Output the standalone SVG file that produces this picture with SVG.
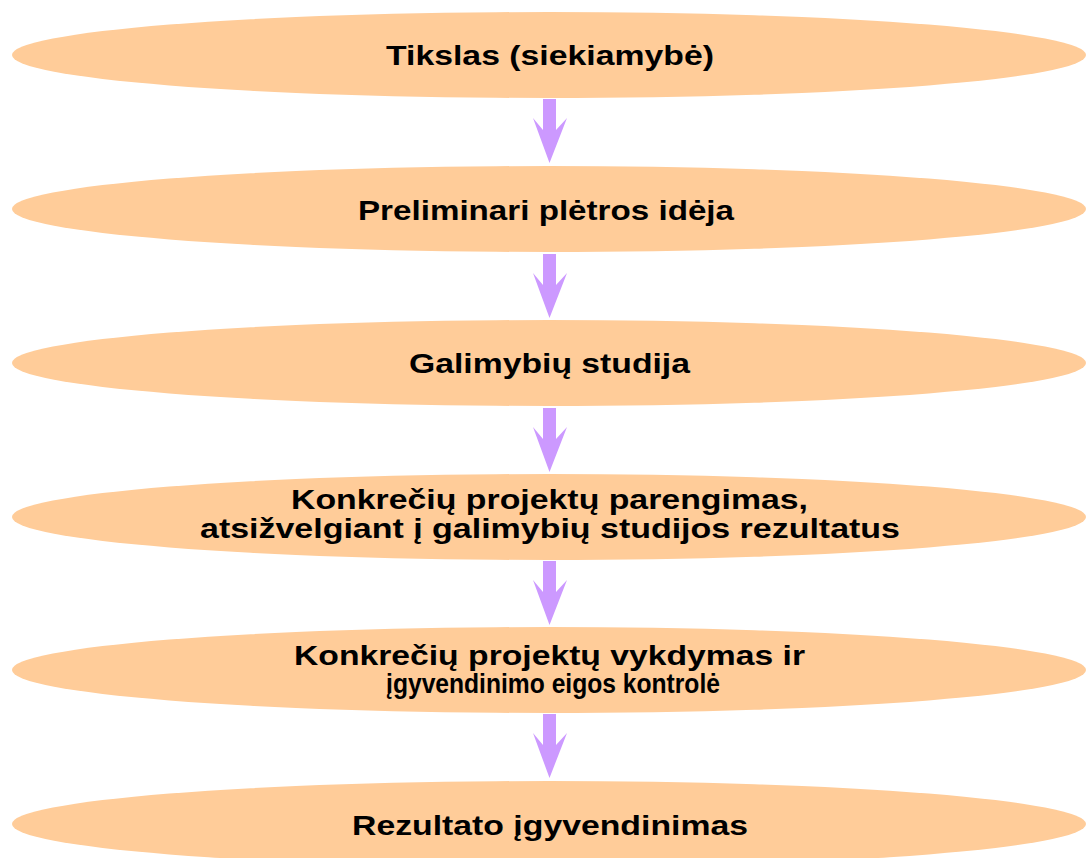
<svg xmlns="http://www.w3.org/2000/svg" width="1086" height="858" viewBox="0 0 1086 858">
<style>
.n{fill:#FFCC99;stroke:none}
.a{fill:#CC99FF;stroke:none}
.t{font-family:"Liberation Sans",Arial,sans-serif;font-weight:bold;font-size:28px;fill:#000;text-anchor:middle}
</style>
<defs>
<polygon id="arr" points="-6.5,0 6.5,0 6.5,31 17.5,19 0,64 -16.5,19 -6.5,31"/>
</defs>
<rect width="1086" height="858" fill="#fff"/>
<g id="connectors">
<use href="#arr" class="a" x="549.5" y="99"/>
<use href="#arr" class="a" x="549.5" y="254"/>
<use href="#arr" class="a" x="549.5" y="408"/>
<use href="#arr" class="a" x="549.5" y="561"/>
<use href="#arr" class="a" x="549.5" y="714"/>
</g>
<g id="n1">
<ellipse class="n" cx="549" cy="55" rx="537" ry="43"/>
<text class="t" x="550" y="65" textLength="328" lengthAdjust="spacingAndGlyphs">Tikslas (siekiamybė)</text>
</g>
<g id="n2">
<ellipse class="n" cx="549" cy="209" rx="537" ry="43"/>
<text class="t" x="546" y="220" textLength="376" lengthAdjust="spacingAndGlyphs">Preliminari plėtros idėja</text>
</g>
<g id="n3">
<ellipse class="n" cx="549" cy="363" rx="537" ry="43"/>
<text class="t" x="549.5" y="373" textLength="281" lengthAdjust="spacingAndGlyphs">Galimybių studija</text>
</g>
<g id="n4">
<ellipse class="n" cx="549" cy="517" rx="537" ry="43"/>
<text class="t" x="549.5" y="509" textLength="517" lengthAdjust="spacingAndGlyphs">Konkrečių projektų parengimas,</text>
<text class="t" x="550" y="538" textLength="700" lengthAdjust="spacingAndGlyphs">atsižvelgiant į galimybių studijos rezultatus</text>
</g>
<g id="n5">
<ellipse class="n" cx="549" cy="670" rx="537" ry="43"/>
<text class="t" x="549.5" y="665" textLength="511" lengthAdjust="spacingAndGlyphs">Konkrečių projektų vykdymas ir</text>
<text class="t" transform="translate(553,693) scale(0.88,1)" x="0" y="0">įgyvendinimo eigos kontrolė</text>
</g>
<g id="n6">
<ellipse class="n" cx="549" cy="824" rx="537" ry="43"/>
<text class="t" x="550" y="835" textLength="396" lengthAdjust="spacingAndGlyphs">Rezultato įgyvendinimas</text>
</g>
</svg>
